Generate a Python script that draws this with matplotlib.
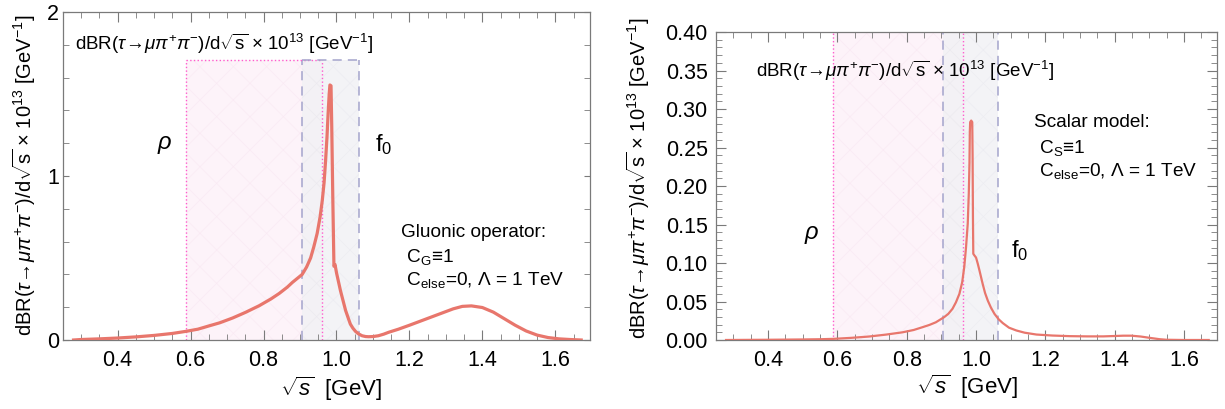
import numpy as np
import matplotlib.pyplot as plt
from matplotlib.patches import Rectangle
from matplotlib.ticker import MultipleLocator, FormatStrFormatter

plt.rcParams['font.family'] = ['Liberation Sans', 'DejaVu Sans']
plt.rcParams['mathtext.fontset'] = 'custom'
plt.rcParams['mathtext.rm'] = 'Liberation Sans'
plt.rcParams['mathtext.it'] = 'Liberation Sans:italic'
plt.rcParams['mathtext.bf'] = 'Liberation Sans:bold'
plt.rcParams['hatch.linewidth'] = 0.5

# sqrt(s) [GeV] and dBR/dsqrt(s) x 1e13 [GeV^-1], gluonic operator
x_glu = [0.279, 0.30, 0.35, 0.40, 0.45, 0.50, 0.55, 0.588, 0.62, 0.652, 0.68, 0.715,
         0.75, 0.788, 0.82, 0.843, 0.865, 0.879, 0.895, 0.906, 0.918, 0.929, 0.938,
         0.947, 0.955, 0.961, 0.966, 0.970, 0.974, 0.977, 0.980, 0.982, 0.985, 0.987,
         0.990, 0.993, 0.996, 1.000, 1.005, 1.011, 1.018, 1.025, 1.032, 1.038, 1.045,
         1.052, 1.060, 1.070, 1.080, 1.088, 1.10, 1.115, 1.13, 1.143, 1.17, 1.20, 1.23,
         1.26, 1.29, 1.32, 1.345, 1.37, 1.40, 1.43, 1.46, 1.49, 1.52, 1.55, 1.58, 1.61,
         1.64, 1.671]
y_glu = [0.0, 0.003, 0.007, 0.012, 0.019, 0.028, 0.040, 0.053, 0.066, 0.087, 0.105, 0.134,
         0.168, 0.209, 0.25, 0.284, 0.322, 0.351, 0.38, 0.40, 0.445, 0.50, 0.57,
         0.65, 0.75, 0.85, 0.96, 1.09, 1.24, 1.38, 1.50, 1.555, 1.55, 1.30,
         0.85, 0.45, 0.46, 0.41, 0.36, 0.30, 0.24, 0.18, 0.135, 0.097, 0.072,
         0.053, 0.038, 0.026, 0.021, 0.020, 0.021, 0.026, 0.036, 0.047, 0.066, 0.09, 0.115,
         0.14, 0.165, 0.19, 0.205, 0.208, 0.198, 0.17, 0.13, 0.09, 0.055, 0.03, 0.015, 0.007,
         0.003, 0.0]

# scalar model
x_sca = [0.279, 0.35, 0.40, 0.45, 0.50, 0.55, 0.59, 0.64, 0.691, 0.74, 0.788, 0.82, 0.846,
         0.865, 0.884, 0.908, 0.92, 0.932, 0.942, 0.952, 0.960, 0.966, 0.971, 0.976, 0.979,
         0.981, 0.982, 0.983, 0.986, 0.989, 0.990, 0.991, 0.992, 0.995, 1.0, 1.005, 1.01,
         1.019, 1.026, 1.034, 1.043, 1.053, 1.065, 1.077, 1.095, 1.116, 1.14, 1.174, 1.22,
         1.27, 1.32, 1.367, 1.40, 1.425, 1.448, 1.475, 1.504, 1.53, 1.55, 1.6, 1.671]
y_sca = [0.0, 0.0002, 0.0003, 0.0005, 0.0007, 0.001, 0.0015, 0.0028, 0.0045, 0.007, 0.010,
         0.013, 0.0167, 0.0195, 0.023, 0.0297, 0.034, 0.0405, 0.049, 0.060, 0.075, 0.095,
         0.12, 0.151, 0.19, 0.23, 0.27, 0.283, 0.285, 0.283, 0.24, 0.16, 0.112, 0.11, 0.107,
         0.099, 0.09, 0.073, 0.061, 0.051, 0.042, 0.034, 0.027, 0.022, 0.016, 0.0124, 0.0095,
         0.0071, 0.0058, 0.005, 0.0047, 0.0047, 0.0052, 0.0056, 0.0056, 0.0045, 0.0026,
         0.001, 0.0003, 0.0, 0.0]

rho_band = (0.588, 0.961)
f0_band = (0.906, 1.063)

curve_color = '#e8766c'
frame_color = '#7a7a7a'
ylab = r'dBR($\tau\!\rightarrow\!\mu\pi^{+}\pi^{-}$)/d$\sqrt{\rm s}$ $\times$ 10$^{13}$ [GeV$^{-1}$]'


def bands(ax, top, draw_top):
    for (x0, x1), fc, hc in [(rho_band, '#fdf0f8', '#f3d6e8'), (f0_band, '#f1f1f4', '#dedee8')]:
        ax.add_patch(Rectangle((x0, 0), x1 - x0, top, facecolor=fc, edgecolor='none',
                               alpha=0.8, zorder=0))
        ax.add_patch(Rectangle((x0, 0), x1 - x0, top, facecolor='none', edgecolor=hc,
                               linewidth=0, hatch='x', alpha=0.3, zorder=0))
    for xv in rho_band:
        ax.plot([xv, xv], [0, top], color='#ff5ccd', ls=':', lw=1.0, zorder=1)
    for xv in f0_band:
        ax.plot([xv, xv], [0, top], color='#a4a4cc', ls=(0, (6, 4)), lw=1.1, zorder=1)
    if draw_top:
        ax.plot(rho_band, [top, top], color='#ff5ccd', ls=':', lw=1.0, zorder=1)
        ax.plot(f0_band, [top, top], color='#a4a4cc', ls=(0, (6, 4)), lw=1.1, zorder=1)


def frame(ax):
    for s in ax.spines.values():
        s.set_color(frame_color)
        s.set_linewidth(0.9)
    ax.tick_params(which='both', direction='in', top=True, right=True, color=frame_color,
                   labelsize=15.5, pad=7)
    ax.tick_params(which='major', length=7)
    ax.tick_params(which='minor', length=4)
    ax.xaxis.set_major_locator(MultipleLocator(0.2))
    ax.xaxis.set_minor_locator(MultipleLocator(0.05))
    ax.xaxis.set_major_formatter(FormatStrFormatter('%.1f'))
    ax.set_xlim(0.25, 1.695)
    ax.set_xlabel(r'$\sqrt{s}$  [GeV]', fontsize=16)


fig = plt.figure(figsize=(12.25, 4.09), dpi=100)

# gluonic operator
ax1 = fig.add_axes([0.0514, 0.1687, 0.4302, 0.802])
bands(ax1, 1.705, True)
ax1.plot(x_glu, y_glu, color=curve_color, lw=2.3, zorder=3, solid_joinstyle='round')
frame(ax1)
ax1.set_ylim(0, 2)
ax1.yaxis.set_major_locator(MultipleLocator(1))
ax1.yaxis.set_minor_locator(MultipleLocator(0.2))
ax1.yaxis.set_major_formatter(FormatStrFormatter('%d'))
ax1.tick_params(axis='y', which='major', length=4, pad=3)
ax1.set_ylabel(ylab, fontsize=14.5)
ax1.yaxis.set_label_coords(-0.047, 0.503)
ax1.xaxis.set_label_coords(0.508, -0.105)
ax1.text(0.023, 0.902, ylab, transform=ax1.transAxes, fontsize=13.5, va='center')
ax1.text(0.53, 1.19, r'$\rho$', fontsize=17, ha='center', va='center')
ax1.text(1.13, 1.19, r'f$_0$', fontsize=17, ha='center', va='center')
ax1.text(1.178, 0.657, 'Gluonic operator:', fontsize=13.7, va='center')
ax1.text(1.178, 0.505, r' C$_{\rm G}$≡1', fontsize=13.7, va='center')
ax1.text(1.178, 0.365, r' C$_{\rm else}$=0, $\Lambda$ = 1 TeV', fontsize=13.7, va='center')

# scalar model
ax2 = fig.add_axes([0.5845, 0.1687, 0.409, 0.753])
bands(ax2, 0.45, False)
ax2.plot(x_sca, y_sca, color=curve_color, lw=1.6, zorder=3, solid_joinstyle='round')
frame(ax2)
ax2.set_ylim(0, 0.40)
ax2.yaxis.set_major_locator(MultipleLocator(0.05))
ax2.yaxis.set_minor_locator(MultipleLocator(0.01))
ax2.yaxis.set_major_formatter(FormatStrFormatter('%.2f'))
ax2.tick_params(axis='y', which='major', pad=6)
ax2.set_ylabel(ylab, fontsize=14.5)
ax2.yaxis.set_label_coords(-0.128, 0.526)
ax2.xaxis.set_label_coords(0.50, -0.105)
ax2.text(0.365, 0.350, ylab, fontsize=13.5, va='center')
ax2.text(0.527, 0.136, r'$\rho$', fontsize=17, ha='center', va='center')
ax2.text(1.126, 0.116, r'f$_0$', fontsize=17, ha='center', va='center')
ax2.text(1.166, 0.283, 'Scalar model:', fontsize=13.7, va='center')
ax2.text(1.166, 0.250, r' C$_{\rm S}$≡1', fontsize=13.7, va='center')
ax2.text(1.166, 0.220, r' C$_{\rm else}$=0, $\Lambda$ = 1 TeV', fontsize=13.7, va='center')

fig.savefig('out.png', dpi=100)
